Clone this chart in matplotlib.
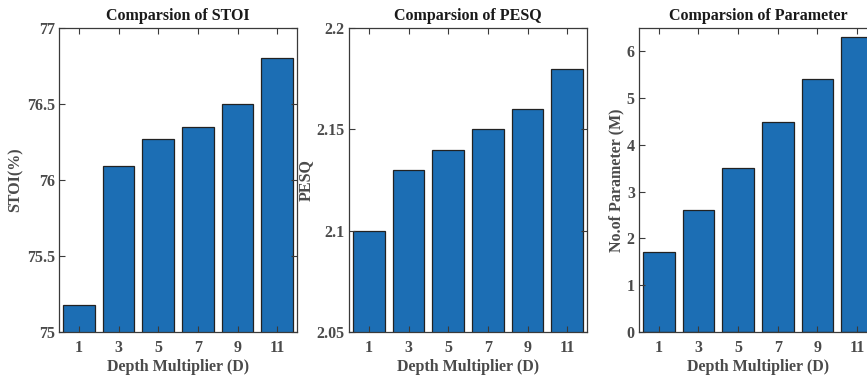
import numpy as np
import matplotlib.pyplot as plt

plt.rcParams['font.family'] = ['Liberation Serif', 'DejaVu Serif']
plt.rcParams['font.weight'] = 'bold'

depth = ['1', '3', '5', '7', '9', '11']
stoi = [75.18, 76.09, 76.27, 76.35, 76.50, 76.80]
pesq = [2.10, 2.13, 2.14, 2.15, 2.16, 2.18]
params = [1.7, 2.6, 3.5, 4.5, 5.4, 6.3]

titles = ['Comparsion of STOI', 'Comparsion of PESQ', 'Comparsion of Parameter']
ylabels = ['STOI(%)', 'PESQ', 'No.of Parameter (M)']
ylims = [(75, 77), (2.05, 2.2), (0, 6.5)]
yticks = [[75, 75.5, 76, 76.5, 77], [2.05, 2.1, 2.15, 2.2], [0, 1, 2, 3, 4, 5, 6]]
yticklabels = [['75', '75.5', '76', '76.5', '77'], ['2.05', '2.1', '2.15', '2.2'],
               ['0', '1', '2', '3', '4', '5', '6']]
series = [stoi, pesq, params]

W, H = 867, 383
fig = plt.figure(figsize=(W / 100, H / 100), dpi=100)
lefts = [59, 349, 639]
bar_color = '#1c6eb4'
axc = '#3a3a3a'
txtc = '#4a4a4a'

x = np.arange(1, len(depth) + 1)
for i in range(3):
    ax = fig.add_axes([lefts[i] / W, (H - 332) / H, 238 / W, (332 - 28) / H])
    ax.bar(x, series[i], width=0.8, color=bar_color, edgecolor='#222222', linewidth=0.9)
    ax.set_xlim(0.5, 6.5)
    ax.set_ylim(*ylims[i])
    ax.set_xticks(x)
    ax.set_xticklabels(depth)
    ax.set_yticks(yticks[i])
    ax.set_yticklabels(yticklabels[i])
    ax.tick_params(direction='in', top=True, right=True, length=4, width=0.8,
                   colors=axc, labelcolor=txtc, labelsize=11.5)
    ax.tick_params(axis='y', pad=3)
    ax.tick_params(axis='x', pad=6)
    for s in ax.spines.values():
        s.set_color(axc)
        s.set_linewidth(0.9)
    ax.set_title(titles[i], fontsize=11.5, fontweight='bold', color='#1a1a1a', pad=6)
    ax.set_xlabel('Depth Multiplier (D)', fontsize=11.5, fontweight='bold', color=txtc, labelpad=2)
    ax.set_ylabel(ylabels[i], fontsize=11.5, fontweight='bold', color=txtc, labelpad=2)

fig.savefig('out.png', dpi=100)
